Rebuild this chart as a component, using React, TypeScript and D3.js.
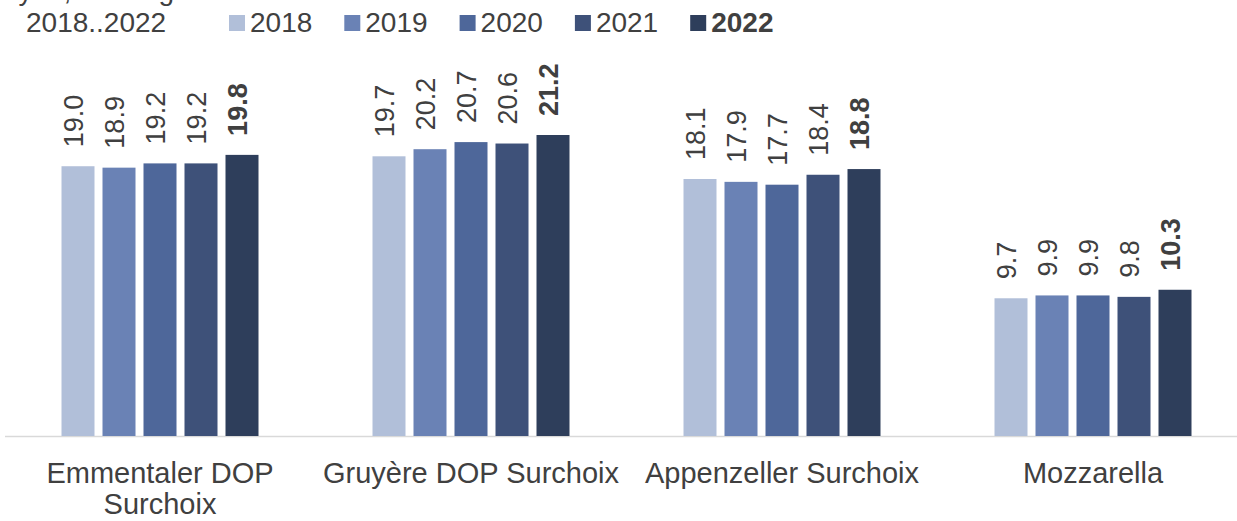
import { useRef, useEffect } from 'react';
import * as d3 from 'd3';

const categories = ['Emmentaler DOP Surchoix', 'Gruyère DOP Surchoix', 'Appenzeller Surchoix', 'Mozzarella'];
const categoryLines = [['Emmentaler DOP', 'Surchoix'], ['Gruyère DOP Surchoix'], ['Appenzeller Surchoix'], ['Mozzarella']];
const years = ['2018', '2019', '2020', '2021', '2022'];
const values = [
  [19.0, 18.9, 19.2, 19.2, 19.8],
  [19.7, 20.2, 20.7, 20.6, 21.2],
  [18.1, 17.9, 17.7, 18.4, 18.8],
  [9.7, 9.9, 9.9, 9.8, 10.3],
];
const colors = ['#b1bfd9', '#6a82b5', '#4e679a', '#3e5179', '#2e3e5b'];
const titleLines = ['Prix moyen, CHF/kg', '2018..2022'];

const App = () => {
  const svgRef = useRef(null);

  useEffect(() => {
    const svg = d3.select(svgRef.current);
    svg.selectAll('*').remove();
    const width = 1237;
    const baseY = 436;
    const textColor = '#404040';
    const font = 'Arial, "Liberation Sans", sans-serif';

    const x0 = d3.scaleBand().domain(categories).range([4.5, 1248.5]).paddingInner(0).paddingOuter(0);
    const x1 = d3.scaleBand().domain(years).range([0, 197]).paddingInner(8 / 41);
    const y = d3.scaleLinear().domain([0, 21.2]).range([baseY, 135]);

    // title
    svg.append('text')
      .attr('x', 174).attr('y', 0).attr('text-anchor', 'end')
      .attr('font-family', font).attr('font-size', 28).attr('fill', textColor)
      .text(titleLines[0]);
    svg.append('text')
      .attr('x', 26).attr('y', 32)
      .attr('font-family', font).attr('font-size', 28).attr('fill', textColor)
      .text(titleLines[1]);

    // legend
    const legend = svg.append('g').selectAll('g').data(years).join('g')
      .attr('transform', (d, i) => `translate(${229 + i * 115.3},0)`);
    legend.append('rect').attr('x', 0).attr('y', 15).attr('width', 16).attr('height', 16)
      .attr('fill', (d, i) => colors[i]);
    legend.append('text').attr('x', 21).attr('y', 32)
      .attr('font-family', font).attr('font-size', 28).attr('fill', textColor)
      .attr('font-weight', (d, i) => (i === years.length - 1 ? 'bold' : 'normal'))
      .text(d => d);

    // axis line
    svg.append('line').attr('x1', 5).attr('x2', width).attr('y1', baseY + 0.5).attr('y2', baseY + 0.5)
      .attr('stroke', '#d9d9d9').attr('stroke-width', 1.5);

    const groups = svg.append('g').selectAll('g').data(categories).join('g')
      .attr('transform', d => `translate(${x0(d) + (x0.bandwidth() - 197) / 2},0)`);

    groups.each(function (cat, ci) {
      const g = d3.select(this);
      years.forEach((yr, yi) => {
        const v = values[ci][yi];
        const bx = x1(yr);
        g.append('rect')
          .attr('x', bx).attr('y', y(v))
          .attr('width', x1.bandwidth()).attr('height', baseY - y(v))
          .attr('fill', colors[yi]);
        const cx = bx + x1.bandwidth() / 2 + 5;
        const ty = y(v) - 19;
        g.append('text')
          .attr('transform', `translate(${cx},${ty}) rotate(-90)`)
          .attr('font-family', font).attr('font-size', 27).attr('fill', textColor)
          .attr('font-weight', yi === years.length - 1 ? 'bold' : 'normal')
          .text(v.toFixed(1));
      });
      const lines = categoryLines[ci];
      lines.forEach((ln, li) => {
        g.append('text')
          .attr('x', 98.5).attr('y', 483 + li * 31)
          .attr('text-anchor', 'middle')
          .attr('font-family', font).attr('font-size', 29).attr('fill', textColor)
          .text(ln);
      });
    });
  }, []);

  return <svg ref={svgRef} width="1237" height="521" style={{ position: 'absolute', left: 0, top: 0 }}></svg>;
};

export default App;
